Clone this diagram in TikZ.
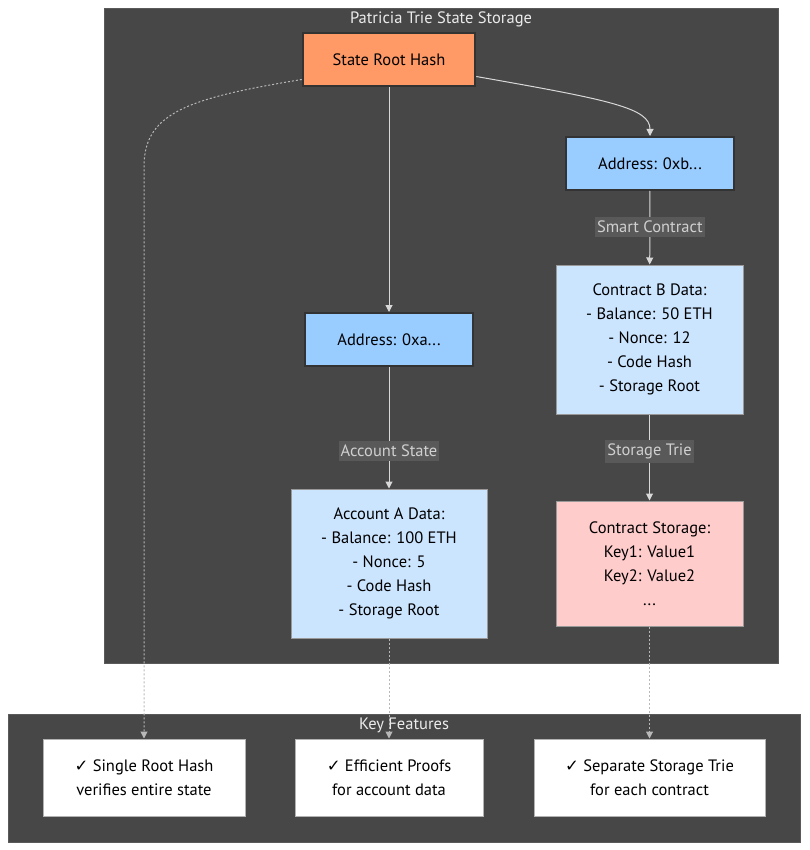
\documentclass[tikz,border=0pt]{standalone}
\usepackage{fontspec}
\setmainfont{PT Sans}
\newfontfamily\symfont{DejaVu Sans}
\usepackage{xcolor}
\usetikzlibrary{arrows.meta,positioning}
\definecolor{clusterbg}{HTML}{474747}
\definecolor{clusterline}{HTML}{5A5A5A}
\definecolor{rootfill}{HTML}{FF9966}
\definecolor{addrfill}{HTML}{99CCFF}
\definecolor{datafill}{HTML}{CCE5FF}
\definecolor{storefill}{HTML}{FFCCCC}
\definecolor{linkcol}{HTML}{D8D8D8}
\definecolor{dotcol}{HTML}{B8B8B8}
\definecolor{tagbg}{HTML}{595959}
\definecolor{tagtext}{HTML}{D0D0D0}

\begin{document}
\begin{tikzpicture}[
  x=1pt,y=-1pt,>={Triangle[length=7pt,width=7pt]},
  font=\fontsize{16.5}{24}\selectfont,
  cluster/.style={draw=clusterline,fill=clusterbg,inner sep=0pt},
  title/.style={text=white!92!black,inner sep=1pt},
  root/.style={draw=black!80,line width=2.5pt,fill=rootfill,inner sep=0pt,
    minimum width=172pt,minimum height=53pt},
  addr/.style={draw=black!80,line width=2pt,fill=addrfill,inner sep=0pt,
    minimum width=168pt,minimum height=53pt},
  data/.style={draw=gray!80,line width=1pt,fill=datafill,inner sep=0pt,align=center},
  store/.style={draw=gray!80,line width=1pt,fill=storefill,inner sep=0pt,align=center},
  feat/.style={draw=gray!60,line width=1pt,fill=white,inner sep=0pt,align=center,
    minimum height=77pt},
  link/.style={->,draw=linkcol,line width=1pt},
  dotline/.style={->,draw=dotcol,line width=1pt,dash pattern=on 2pt off 2pt},
  tag/.style={fill=tagbg,text=tagtext,inner xsep=2pt,inner ysep=4pt}
]
\useasboundingbox (0,0) rectangle (809,850);
% clusters
\node[cluster,minimum width=674pt,minimum height=655pt] (trie) at (441,335.5) {};
\node[title] (trietitle) at (441,19) {Patricia Trie State Storage};
\node[cluster,minimum width=792pt,minimum height=128pt] (keys) at (404,778) {};
\node[title] (keystitle) at (404,725) {Key Features};
% trie nodes
\node[root] (root) at (389,59.5) {State Root Hash};
\node[addr] (addrb) at (650,163.5) {Address: 0xb...};
\node[addr] (addra) at (389,339.5) {Address: 0xa...};
\node[data,minimum width=187pt,minimum height=149pt] (datab) at (649.5,339.5)
  {Contract B Data:\\- Balance: 50 ETH\\- Nonce: 12\\- Code Hash\\- Storage Root};
\node[data,minimum width=196pt,minimum height=149pt] (dataa) at (389,563.5)
  {Account A Data:\\- Balance: 100 ETH\\- Nonce: 5\\- Code Hash\\- Storage Root};
\node[store,minimum width=187pt,minimum height=125pt] (storage) at (649.5,563.5)
  {Contract Storage:\\Key1: Value1\\Key2: Value2\\...};
% features
\node[feat,minimum width=202pt] (single) at (144,777.5)
  {{\symfont ✓} Single Root Hash\\verifies entire state};
\node[feat,minimum width=188pt] (proofs) at (389,777.5)
  {{\symfont ✓} Efficient Proofs\\for account data};
\node[feat,minimum width=231pt] (separate) at (649.5,777.5)
  {{\symfont ✓} Separate Storage Trie\\for each contract};
% connectors
\draw[link] (root) -- (addra);
\draw[link] ([yshift=-17pt]root.east) .. controls (610,100) and (650,108) .. (addrb.north);
\draw[link] (addrb) -- node[tag,pos=.49] (tagsc) {Smart Contract} (datab);
\draw[link] (addra) -- node[tag,pos=.69] (tagas) {Account State} (dataa);
\draw[link] (datab) -- node[tag,pos=.43] (tagst) {Storage Trie} (storage);
\draw[dotline] ([yshift=-20pt]root.west) .. controls (190,98) and (145,112) ..
  (single.north |- 0,165) -- (single.north);
\draw[dotline] (dataa) -- (proofs);
\draw[dotline] (storage) -- (separate);
\end{tikzpicture}
\end{document}
